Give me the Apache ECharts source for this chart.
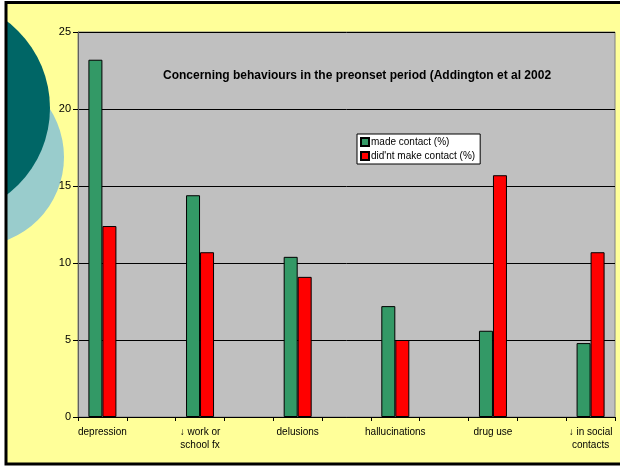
<!DOCTYPE html>
<html>
<head>
    <meta charset="utf-8">
    <title>Concerning behaviours in the preonset period</title>
    <script type="text/javascript" src="https://cdn.jsdelivr.net/npm/echarts@6/dist/echarts.min.js"></script>
    <style>
        *{
            margin:0;
            padding:0;
        }
        body{
            background:#ffffff;
        }
        #main{
            width:620px;
            height:466px;
        }
    </style>
</head>
<body>
<div id="main"></div>
<script type="text/javascript">
    // 11 slots on the axis, every second one is an empty spacer (as in the original sheet)
    var categories = ['depression', '', '\u2193 work or\nschool fx', '', 'delusions', '',
        'hallucinations', '', 'drug use', '', '\u2193 in social\ncontacts'];
    var madeContact = [23.2, '-', 14.4, '-', 10.4, '-', 7.2, '-', 5.6, '-', 4.8];
    var noContact = [12.4, '-', 10.7, '-', 9.1, '-', 5.0, '-', 15.7, '-', 10.7];
    var yTicks = [0, 5, 10, 15, 20, 25];

    (function(){
        var dom = document.getElementById('main');
        var myChart = echarts.init(dom, null, {renderer: 'canvas'});
        var font = '"Liberation Sans", Arial, sans-serif';

        var option = {
            backgroundColor: '#ffffff',
            animation: false,
            textStyle: {fontFamily: font},
            graphic: [
                // slide background
                {type: 'rect', z: -10, shape: {x: 6, y: 2.5, width: 660, height: 461.5},
                    style: {fill: '#FFFF99'}},
                // decorative circles
                {type: 'circle', z: -9, shape: {cx: -25, cy: 157, r: 89},
                    style: {fill: '#99CCCC'}},
                {type: 'circle', z: -8, shape: {cx: -59, cy: 108, r: 109},
                    style: {fill: '#006666'}},
                // white margin left of the frame
                {type: 'rect', z: -7, shape: {x: 0, y: 0, width: 5, height: 466},
                    style: {fill: '#ffffff'}},
                // frame (right side runs off the page)
                {type: 'rect', z: 50, shape: {x: 6, y: 2.5, width: 660, height: 461.5},
                    style: {fill: null, stroke: '#000000', lineWidth: 3}}
            ],
            title: {
                text: 'Concerning behaviours in the preonset period (Addington et al 2002',
                left: 158,
                top: 65,
                textStyle: {fontFamily: font, fontSize: 12, fontWeight: 'bold', color: '#000'}
            },
            legend: {
                orient: 'vertical',
                left: 357,
                top: 134,
                backgroundColor: '#ffffff',
                borderColor: '#000000',
                borderWidth: 1,
                padding: [3, 5, 3, 3],
                itemGap: 4,
                itemWidth: 8,
                itemHeight: 8,
                icon: 'rect',
                textStyle: {fontFamily: font, fontSize: 10, color: '#000', padding: [0, 0, 0, -3]},
                data: ['made contact (%)', "did'nt make contact (%)"]
            },
            grid: {
                left: 78,
                top: 32,
                right: 5,
                bottom: 49,
                show: true,
                backgroundColor: '#C0C0C0',
                borderColor: '#808080',
                borderWidth: 1,
                containLabel: false
            },
            xAxis: {
                type: 'category',
                data: categories,
                axisLine: {lineStyle: {color: '#000', width: 1}},
                axisTick: {show: true, interval: 0, alignWithLabel: false, length: 4,
                    lineStyle: {color: '#000'}},
                axisLabel: {interval: 0, color: '#000', fontSize: 10, fontFamily: font,
                    lineHeight: 13, margin: 9},
                splitLine: {show: false}
            },
            yAxis: {
                type: 'value',
                min: yTicks[0],
                max: yTicks[yTicks.length - 1],
                interval: 5,
                axisLine: {show: true, lineStyle: {color: '#606060', width: 1}},
                axisTick: {show: true, length: 5, lineStyle: {color: '#000'}},
                axisLabel: {color: '#000', fontSize: 11, fontFamily: font, margin: 7},
                splitLine: {show: true, lineStyle: {color: '#000', width: 1}}
            },
            series: [
                {
                    name: 'made contact (%)',
                    type: 'bar',
                    data: madeContact,
                    barWidth: 14,
                    barGap: '0%',
                    itemStyle: {color: '#339966', borderColor: '#000', borderWidth: 1}
                },
                {
                    name: "did'nt make contact (%)",
                    type: 'bar',
                    data: noContact,
                    barWidth: 14,
                    barGap: '0%',
                    itemStyle: {color: '#FF0000', borderColor: '#000', borderWidth: 1}
                }
            ]
        };
        myChart.setOption(option, true);
    })();
</script>
</body>
</html>
